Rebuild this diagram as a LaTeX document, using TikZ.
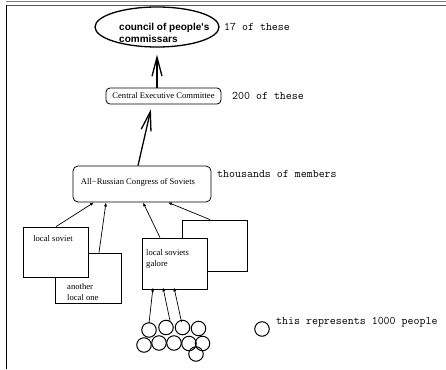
\documentclass[tikz,border=0pt]{standalone}
\usepackage{fontspec}
\setmainfont{Liberation Serif}
\newfontfamily\helv{Liberation Sans}
\usetikzlibrary{arrows.meta,shapes.geometric}
\begin{document}
\begin{tikzpicture}[x=1pt,y=-1pt,
  box/.style={draw, line width=0.8pt, fill=white, inner sep=0pt},
  rbox/.style={box, rounded corners=4pt},
  tnote/.style={font=\ttfamily\fontsize{11.6}{13}\selectfont, anchor=west, inner sep=0pt},
  small/.style={font=\fontsize{8.6}{10.5}\selectfont, inner sep=0pt},
  bigarrow/.style={line width=1.3pt, -{Straight Barb[length=19pt,width=10pt]}},
  smallarrow/.style={line width=0.7pt, -{Latex[length=4pt,width=3pt]}},
  person/.style={circle, draw, line width=1pt, minimum size=14.5pt, inner sep=0pt}
]
\useasboundingbox (0,0) rectangle (446,369);
% frame
\draw[line width=1.2pt, gray] (6,1.3) -- (446,1.3);
\draw[line width=1.2pt, black!65] (6,5.8) -- (446,5.8);
\draw[line width=1.4pt] (6.6,5.2) -- (6.6,369);

% top ellipse
\node[ellipse, draw, line width=1.3pt, minimum width=124pt, minimum height=40pt, inner sep=0pt] (ell) at (157,27) {};
\node[anchor=west, align=left, inner sep=0pt, font=\helv\bfseries\fontsize{10}{12.5}\selectfont] (ellt) at (119,33) {council of people's\\commissars};
\node[tnote] (n17) at (224,27) {17 of these};

% CEC
\node[rbox, minimum width=115pt, minimum height=16pt, small] (cec) at (163.5,96) {Central Executive Committee};
\node[tnote] (n200) at (232,96) {200 of these};

% All-Russian
\node[rbox, minimum width=138pt, minimum height=36pt, rounded corners=5pt] (ar) at (142,184) {};
\node[small] (art) at (138,182) {All−Russian Congress of Soviets};
\node[tnote] (nth) at (217,174) {thousands of members};

% local soviets
\node[box, minimum width=66pt, minimum height=50pt] (alo) at (88,278) {};
\node[small, anchor=west, align=left] (alot) at (67,292) {another\\local one};
\node[box, minimum width=65pt, minimum height=50pt] (ls) at (55.5,252) {};
\node[small] (lst) at (53,239) {local soviet};

\node[box, minimum width=65pt, minimum height=51pt] (bk) at (214.5,245.5) {};
\node[box, minimum width=65pt, minimum height=51pt] (gal) at (174.5,263.5) {};
\node[small, anchor=west, align=left] (galt) at (146,259) {local soviets\\galore};

% big arrows
\draw[bigarrow, shorten >=7pt] (cec.north -| ell.south) -- (ell.south);
\draw[bigarrow, shorten >=5pt] ([xshift=-4pt]ar.north) -- ([xshift=-11.5pt]cec.south);

% small arrows into All-Russian
\draw[smallarrow] ([xshift=0.5pt]ls.north) -- ([xshift=-48pt]ar.south);
\draw[smallarrow] ([xshift=11pt]alo.north) -- ([xshift=-36pt]ar.south);
\draw[smallarrow] ([xshift=-14.5pt]gal.north) -- ([xshift=1pt]ar.south);
\draw[smallarrow] ([xshift=-4.5pt]bk.north) -- ([xshift=26pt]ar.south);

% people
\node[person] (p1) at (149,330) {};
\node[person] (p2) at (166,327.5) {};
\node[person] (p3) at (182.5,327.5) {};
\node[person] (p4) at (198.5,328.5) {};
\node[person] (p5) at (144,345) {};
\node[person] (p6) at (159,343) {};
\node[person] (p7) at (174,343) {};
\node[person] (p8) at (189,343.5) {};
\node[person] (p9) at (202.5,343.5) {};
\node[person] (p10) at (196,354) {};

\draw[smallarrow] ([yshift=-1pt]p1.north) -- ([xshift=-21.5pt,yshift=2pt]gal.south);
\draw[smallarrow] ([xshift=4pt,yshift=-1pt]p2.north) -- ([xshift=-11.5pt,yshift=2pt]gal.south);
\draw[smallarrow] ([xshift=-1pt,yshift=-2pt]p3.north) -- ([xshift=-0.5pt,yshift=2pt]gal.south);

% legend
\node[person] (leg) at (262,329) {};
\node[tnote] (legt) at (276,322) {this represents 1000 people};
\end{tikzpicture}
\end{document}
